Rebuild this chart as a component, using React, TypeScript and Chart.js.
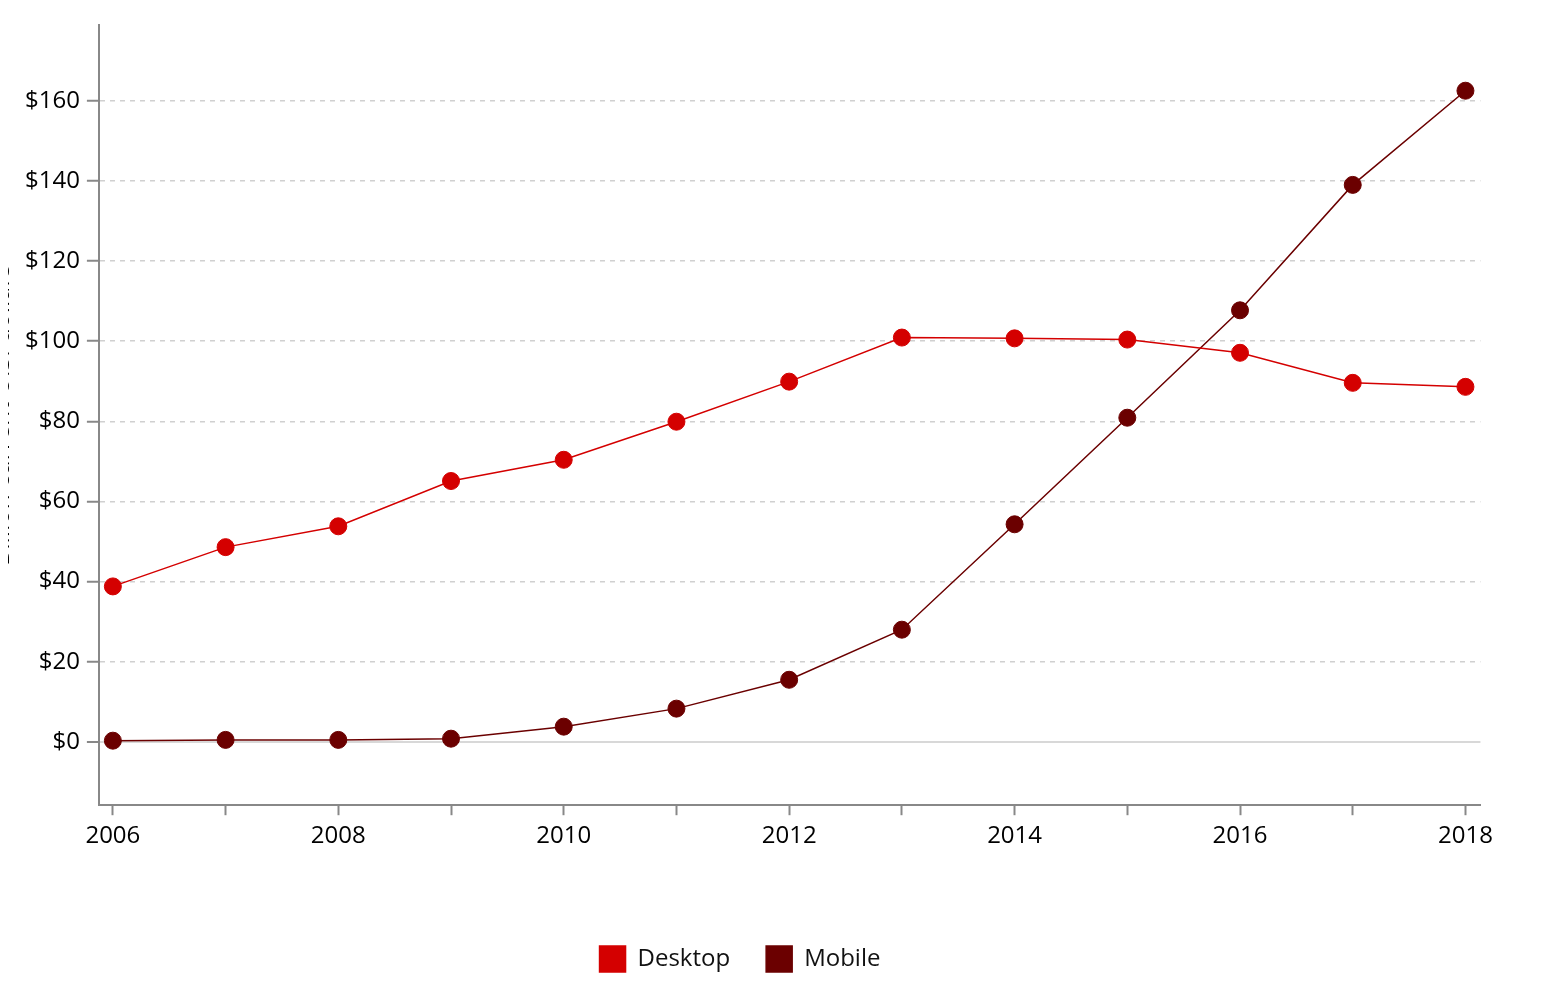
import React, { useEffect, useRef } from "react";
import { Chart, registerables } from "chart.js";

Chart.register(...registerables);

const years = [2006, 2007, 2008, 2009, 2010, 2011, 2012, 2013, 2014, 2015, 2016, 2017, 2018];
const desktop = [38.8, 48.6, 53.8, 65.1, 70.4, 79.9, 89.9, 100.9, 100.7, 100.4, 97.1, 89.6, 88.6];
const mobile = [0.3, 0.5, 0.5, 0.8, 3.8, 8.3, 15.5, 28.0, 54.3, 80.9, 107.7, 139.0, 162.5];
const yTicks = [0, 20, 40, 60, 80, 100, 120, 140, 160];
const yTitle = "Billion current U.S. dollars";

const FONT = "'Open Sans', sans-serif";

export default function App() {
  const ref = useRef<HTMLCanvasElement | null>(null);
  useEffect(() => {
    if (!ref.current) return;
    const chart = new Chart(ref.current, {
      type: "line",
      data: {
        datasets: [
          {
            label: "Desktop",
            data: years.map((y, i) => ({ x: y, y: desktop[i] })),
            borderColor: "#d40000",
            backgroundColor: "#d40000",
            pointBackgroundColor: "#d40000",
            pointBorderColor: "#d40000",
            borderWidth: 1.5,
            pointRadius: 8.5,
            pointBorderWidth: 1,
            tension: 0,
          },
          {
            label: "Mobile",
            data: years.map((y, i) => ({ x: y, y: mobile[i] })),
            borderColor: "#6b0000",
            backgroundColor: "#6b0000",
            pointBackgroundColor: "#6b0000",
            pointBorderColor: "#6b0000",
            borderWidth: 1.5,
            pointRadius: 8.5,
            pointBorderWidth: 1,
            tension: 0,
          },
        ],
      },
      options: {
        animation: false,
        responsive: true,
        maintainAspectRatio: false,
        layout: { padding: { top: 13, bottom: 16, left: 0, right: 0 } },
        plugins: {
          legend: {
            position: "bottom",
            labels: {
              boxWidth: 26,
              boxHeight: 26,
              padding: 36,
              color: "#111",
              font: { family: FONT, size: 24 },
            },
          },
          tooltip: { enabled: false },
        },
        scales: {
          x: {
            type: "linear",
            min: 2005.876,
            max: 2018.133,
            afterBuildTicks: (scale: any) => {
              scale.ticks = years.map((v) => ({ value: v }));
            },
            afterFit: (scale: any) => {
              scale.height += 52;
            },
            grid: {
              drawOnChartArea: false,
              drawTicks: true,
              tickLength: 10,
              tickColor: "#888",
              tickWidth: 2,
            },
            border: { display: true, color: "#888", width: 2 },
            ticks: {
              color: "#000",
              padding: 7,
              maxRotation: 0,
              autoSkip: false,
              font: { family: FONT, size: 24 },
              callback: (v: any) => (Number(v) % 2 === 0 ? String(v) : ""),
            },
          },
          y: {
            type: "linear",
            min: -15.8,
            max: 178.8,
            afterBuildTicks: (scale: any) => {
              scale.ticks = yTicks.map((v) => ({ value: v }));
            },
            title: {
              display: true,
              text: yTitle,
              color: "#000",
              font: { family: FONT, size: 25 },
              padding: { top: 7, bottom: 1 },
            },
            grid: {
              drawOnChartArea: true,
              drawTicks: true,
              tickLength: 12,
              tickColor: "#888",
              tickWidth: 2,
              lineWidth: (ctx: any) => (ctx.tick && ctx.tick.value === 0 ? 2 : 1.5),
              color: (ctx: any) => (ctx.tick && ctx.tick.value === 0 ? "#d8d8d8" : "#d0d0d0"),
            },
            border: {
              display: true,
              color: "#888",
              width: 2,
              dash: (ctx: any) => (ctx.tick && ctx.tick.value === 0 ? [] : [5, 5]),
            },
            ticks: {
              color: "#000",
              padding: 7,
              font: { family: FONT, size: 24 },
              callback: (v: any) => "$" + v,
            },
          },
        },
      },
    });
    return () => chart.destroy();
  }, []);
  return (
    <div style={{ marginLeft: -28, marginTop: -4, width: 1520, height: 994, position: "relative" }}>
      <canvas ref={ref} />
    </div>
  );
}
